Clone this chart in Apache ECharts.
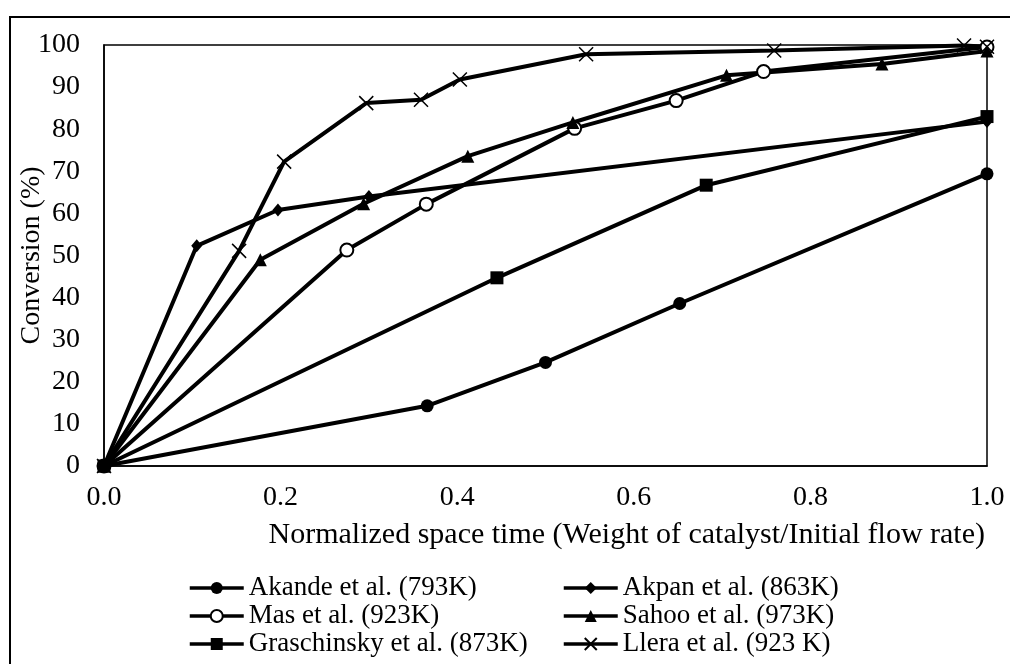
<!DOCTYPE html>
<html>
<head>
<meta charset="utf-8">
<script src="https://cdn.jsdelivr.net/npm/echarts@6/dist/echarts.min.js"></script>
<style>
html,body{margin:0;padding:0;background:#fff;}
#chart{width:1010px;height:664px;}
</style>
</head>
<body>
<div id="chart"></div>
<script>
var seriesNames = [
  'Akande et al. (793K)',
  'Akpan et al. (863K)',
  'Mas et al. (923K)',
  'Sahoo et al. (973K)',
  'Graschinsky et al. (873K)',
  'Llera et al. (923 K)'
];
var akande = [[0,0],[0.366,14.3],[0.5,24.6],[0.652,38.6],[1.0,69.4]];
var akpan = [[0,0],[0.105,52.3],[0.197,60.8],[0.300,64.0],[1.0,81.8]];
var mas = [[0,0],[0.275,51.3],[0.365,62.2],[0.533,80.2],[0.648,86.8],[0.747,93.7],[1.0,99.5]];
var sahoo = [[0,0],[0.177,49.0],[0.294,62.3],[0.412,73.6],[0.531,81.6],[0.705,92.8],[0.881,95.5],[1.0,98.6]];
var graschinsky = [[0,0],[0.445,44.7],[0.682,66.7],[1.0,83.0]];
var llera = [[0,0],[0.153,51.1],[0.204,72.3],[0.297,86.2],[0.359,87.0],[0.403,91.8],[0.546,97.8],[0.759,98.7],[0.974,99.9],[1.0,99.6]];
var xTicks = [0, 0.2, 0.4, 0.6, 0.8, 1.0];
var yTicks = [0,10,20,30,40,50,60,70,80,90,100];

var FONT = '"Liberation Serif", "Times New Roman", serif';
var crossPath = 'path://M0,0L10,10M10,0L0,10';

function mk(name, data, symbol, size, extra) {
  var s = {
    name: name,
    type: 'line',
    data: data,
    symbol: symbol,
    symbolSize: size,
    showSymbol: true,
    lineStyle: {color: '#000', width: 4},
    itemStyle: {color: '#000'},
    emphasis: {disabled: true},
    animation: false
  };
  if (extra) { for (var k in extra) s[k] = extra[k]; }
  return s;
}

var legendCommon = {
  orient: 'vertical', top: 574, height: 90, padding: 0,
  itemWidth: 54, itemHeight: 15, itemGap: 0,
  lineStyle: {width: 3.5, color: '#000'},
  textStyle: {fontFamily: FONT, fontSize: 27, color: '#000', lineHeight: 28},
  selectedMode: false
};

var chart = echarts.init(document.getElementById('chart'), null, {renderer: 'canvas'});
chart.setOption({
  backgroundColor: '#fff',
  animation: false,
  textStyle: {fontFamily: FONT, color: '#000'},
  graphic: [{
    type: 'rect', z: -10,
    shape: {x: 10, y: 17, width: 1100, height: 800},
    style: {fill: 'none', stroke: '#000', lineWidth: 2}
  }],
  grid: {left: 104, top: 45, right: 23, bottom: 198, containLabel: false, outerBoundsMode: 'none',
    show: true, borderColor: '#000', borderWidth: 1.5, backgroundColor: 'transparent'},
  xAxis: {
    type: 'value', min: 0, max: 1, interval: 0.2,
    name: 'Normalized space time (Weight of catalyst/Initial flow rate)',
    nameLocation: 'end', nameGap: -2, nameMoveOverlap: false,
    nameTextStyle: {fontFamily: FONT, fontSize: 30, color: '#000', align: 'right', verticalAlign: 'top', padding: [54, 0, 0, 0]},
    axisLine: {show: true, lineStyle: {color: '#000', width: 1.5}},
    axisTick: {show: false},
    splitLine: {show: false},
    axisLabel: {fontFamily: FONT, fontSize: 28, color: '#000', margin: 18,
      formatter: function (v) { return v.toFixed(1); }}
  },
  yAxis: {
    type: 'value', min: 0, max: 100, interval: 10,
    name: 'Conversion (%)', nameLocation: 'middle', nameGap: 58, nameRotate: 90, nameMoveOverlap: false,
    nameTextStyle: {fontFamily: FONT, fontSize: 28, color: '#000'},
    axisLine: {show: true, lineStyle: {color: '#000', width: 1.5}},
    axisTick: {show: false},
    splitLine: {show: false},
    axisLabel: {fontFamily: FONT, fontSize: 28, color: '#000', margin: 24}
  },
  legend: [
    Object.assign({}, legendCommon, {left: 188, data: [seriesNames[0], seriesNames[2], seriesNames[4]]}),
    Object.assign({}, legendCommon, {left: 562, data: [seriesNames[1], seriesNames[3], seriesNames[5]]})
  ],
  series: [
    mk(seriesNames[0], akande, 'circle', 13),
    mk(seriesNames[1], akpan, 'diamond', [11, 13]),
    mk(seriesNames[2], mas, 'emptyCircle', 13, {itemStyle: {color: '#000', borderWidth: 1.5}}),
    mk(seriesNames[3], sahoo, 'triangle', 13),
    mk(seriesNames[4], graschinsky, 'rect', 13),
    mk(seriesNames[5], llera, crossPath, 14, {itemStyle: {color: 'none', borderColor: '#000', borderWidth: 1.5}})
  ]
});
</script>
</body>
</html>
